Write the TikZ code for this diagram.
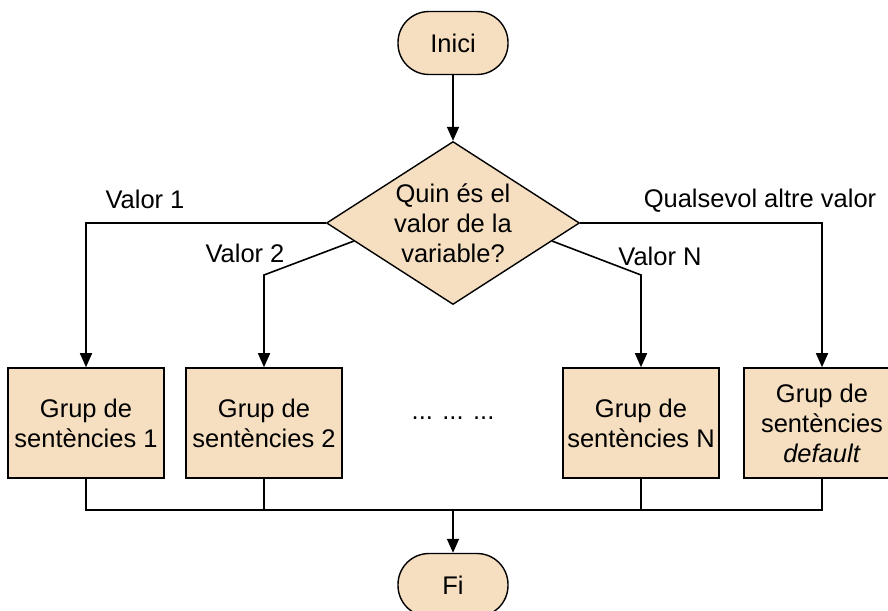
\documentclass[tikz,border=0pt]{standalone}
\usepackage{fontspec}
\setmainfont{Liberation Sans}
\usetikzlibrary{shapes.geometric}
\usetikzlibrary{arrows.meta}
\usetikzlibrary{calc}

\definecolor{beix}{RGB}{245,223,192}

\begin{document}
\begin{tikzpicture}[x=1pt,y=-1pt,
    font=\fontsize{25.5}{30}\selectfont,
    every node/.style={align=center},
    terminal/.style={draw,line width=1.4pt,fill=beix,rounded corners=31pt,minimum width=110pt,minimum height=63pt},
    decisio/.style={diamond,draw,line width=1.4pt,fill=beix,aspect=1.55,minimum width=253pt,minimum height=163pt,inner sep=0pt},
    caixa/.style={draw,line width=1.6pt,fill=beix,minimum width=156pt,minimum height=110pt,inner sep=0pt},
    linia/.style={line width=1.6pt},
    fletxa/.style={linia,-{Triangle[width=12pt,length=14pt]}}]
  \useasboundingbox (0,0) rectangle (888,610);

  \node[terminal] (inici) at (453,43) {Inici};
  \node[decisio] (dec) at (453,223) {Quin és el\\valor de la\\variable?};

  \node[caixa] (g1) at (86,423) {Grup de\\sentències 1};
  \node[caixa] (g2) at (264,423) {Grup de\\sentències 2};
  \node (punts) at (453,418) {... ... ...};
  \node[caixa] (gn) at (641,423) {Grup de\\sentències N};
  \node[caixa] (gd) at (822,423) {Grup de\\sentències\\\textit{default}};

  \node[terminal] (fi) at (453,585) {Fi};

  % branques de la decisio
  \coordinate (k2) at (264,275);
  \coordinate (kn) at (641,275);
  \coordinate (uneix) at (453,510);

  \draw[fletxa] (inici) -- (dec);
  \draw[fletxa] (dec.west) -| (g1.north);
  \draw[fletxa] ($(dec.west)!0.22!(dec.south)$) -- (k2) -- (g2.north);
  \draw[fletxa] ($(dec.east)!0.22!(dec.south)$) -- (kn) -- (gn.north);
  \draw[fletxa] (dec.east) -| (gd.north);

  \node (v1) at (145,199) {Valor 1};
  \node (v2) at (245,253) {Valor 2};
  \node (vn) at (660,256) {Valor N};
  \node (va) at (760,201) {Qualsevol altre valor};

  % tornada cap al final
  \draw[linia] (g1.south) |- (uneix) -| (gd.south);
  \draw[linia] (g2.south) -- (g2.south |- uneix);
  \draw[linia] (gn.south) -- (gn.south |- uneix);
  \draw[fletxa] (uneix) -- (fi);
\end{tikzpicture}
\end{document}
